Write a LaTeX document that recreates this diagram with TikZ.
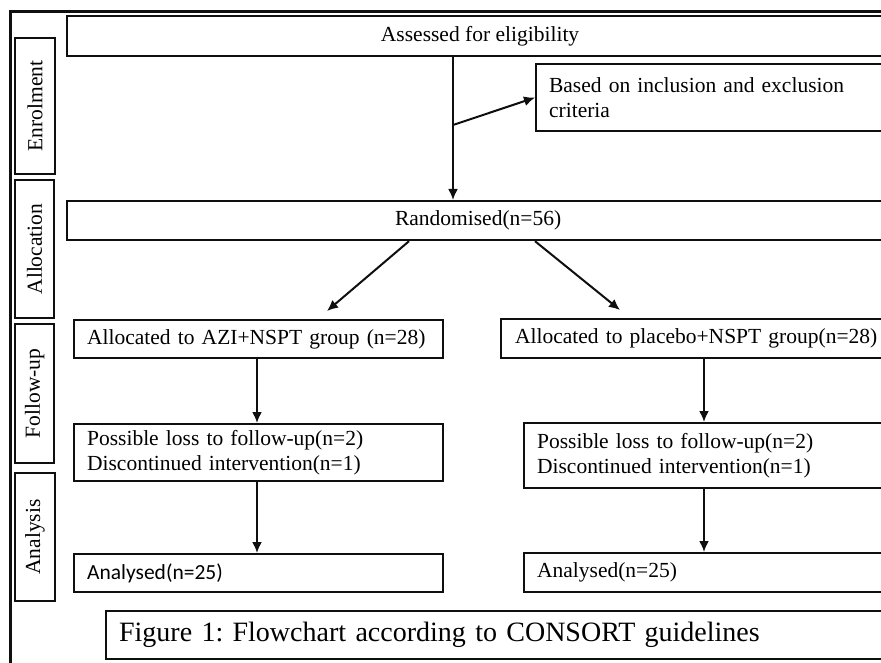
\documentclass[tikz,border=0pt]{standalone}
\usepackage{fontspec}
\setmainfont{Liberation Serif}
\newfontfamily\calibrifont{Carlito}
\frenchspacing
\definecolor{framegray}{RGB}{15, 15, 15}
\usetikzlibrary{arrows.meta, positioning, calc}
\newcommand{\bodyfont}{\fontsize{21.5}{25}\selectfont}
\newcommand{\capfont}{\fontsize{28}{32}\selectfont}
\tikzset{
	stagebox/.style={rectangle, draw=framegray, line width=2.2pt, anchor=north west, inner sep=0pt, align=center, font=\bodyfont},
	leftbox/.style={rectangle, draw=framegray, line width=2.2pt, anchor=north west, inner xsep=13pt, inner ysep=0pt, align=left, font=\bodyfont},
	phase/.style={rectangle, draw=framegray, line width=2.2pt, anchor=north west, inner sep=0pt, font=\bodyfont},
	arrow/.style={-{Latex[length=11pt, width=10pt]}, line width=2pt, draw=framegray},
}
\begin{document}
\begin{tikzpicture}[x=1pt, y=-1pt]
		\useasboundingbox (0,0) rectangle (881,663);
		\clip (0,0) rectangle (881,663);
		\draw[framegray, line width=3pt] (10,12) rectangle (890,680);
		% phases
		\node[phase, minimum width=40pt, minimum height=136pt] (enrol) at (14,37) {};
		\node[rotate=90, font=\bodyfont] at (enrol.center) {Enrolment};
		\node[phase, minimum width=39pt, minimum height=138pt] (alloc) at (14,179) {};
		\node[rotate=90, font=\bodyfont] at (alloc.center) {Allocation};
		\node[phase, minimum width=39pt, minimum height=139pt] (follow) at (14,323) {};
		\node[rotate=90, font=\bodyfont] at (follow.center) {Follow-up};
		\node[phase, minimum width=40pt, minimum height=128pt] (analysis) at (14,472) {};
		\node[rotate=90, font=\bodyfont] at (analysis.center) {Analysis};
		% boxes
		\node[stagebox, minimum width=818pt, minimum height=40pt] (assess) at (66,15) {\hspace*{8pt}Assessed for eligibility};
		\node[leftbox, text width=323pt, minimum height=67pt] (crit) at (535,63) {Based on inclusion and exclusion\\criteria};
		\node[stagebox, minimum width=818pt, minimum height=39pt] (rand) at (66,200) {\hspace*{4pt}Randomised(n=56)};
		\node[leftbox, text width=343pt, minimum height=38pt] (azi) at (73,319) {Allocated to AZI+NSPT group (n=28)};
		\node[leftbox, text width=390pt, minimum height=39pt] (plac) at (500,318) {\hspace*{1pt}Allocated to placebo+NSPT group(n=28)};
		\node[leftbox, text width=343pt, minimum height=57pt] (lossa) at (73,423) {Possible loss to follow-up(n=2)\\Discontinued intervention(n=1)};
		\node[leftbox, text width=335pt, minimum height=65pt] (lossp) at (523,422) {Possible loss to follow-up(n=2)\\Discontinued intervention(n=1)};
		\node[leftbox, text width=343pt, minimum height=38pt, font=\calibrifont\bodyfont] (ana) at (73,553) {Analysed(n=25)};
		\node[leftbox, text width=335pt, minimum height=39pt] (anp) at (523,552) {Analysed(n=25)};
		\node[leftbox, text width=753pt, minimum height=48pt, font=\capfont] (caption) at (105,610) {Figure 1: Flowchart according to CONSORT guidelines};
		% connectors
		\coordinate (split) at (453,125);
		\draw[arrow] (assess.south -| split) -- (rand.north -| split);
		\draw[arrow] (split) -- (crit.west);
		\draw[arrow] (rand.south -| 409,0) -- ($(azi.north -| 327,0)+(0,-8)$);
		\draw[arrow] (rand.south -| 535,0) -- ($(plac.north -| 620,0)+(0,-8)$);
		\draw[arrow] (azi.south -| 257,0) -- (lossa.north -| 257,0);
		\draw[arrow] (lossa.south -| 257,0) -- (ana.north -| 257,0);
		\draw[arrow] (plac.south -| 704,0) -- (lossp.north -| 704,0);
		\draw[arrow] (lossp.south -| 704,0) -- (anp.north -| 704,0);
	\end{tikzpicture}
\end{document}
